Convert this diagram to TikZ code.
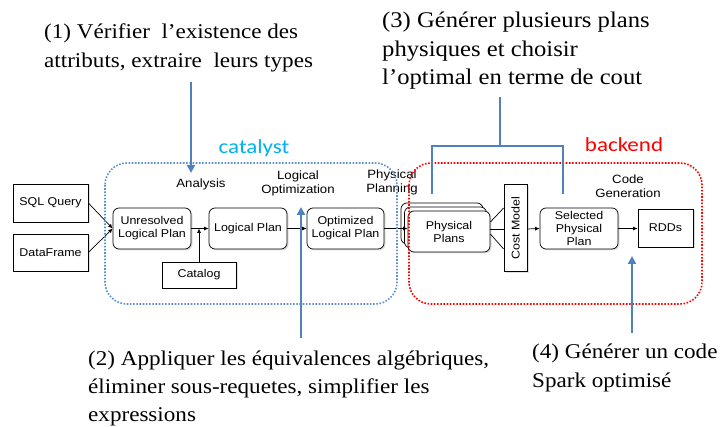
\documentclass[tikz,border=0pt]{standalone}
\usepackage{fontspec}
\setmainfont{Liberation Serif}[FakeStretch=1.1]
\setsansfont{Liberation Sans}[FakeStretch=1.1]
\newfontfamily\calib{Carlito}[FakeStretch=1.15]
\usetikzlibrary{arrows.meta,shadows,calc}
\definecolor{noteblue}{HTML}{4F81BD}
\definecolor{dotblue}{HTML}{5B8FD0}
\definecolor{catcyan}{HTML}{00B0F0}
\definecolor{backred}{HTML}{FF0000}
\tikzset{
  shadowed/.style={drop shadow={opacity=0.25,shadow xshift=1.5pt,shadow yshift=-1.5pt}},
  plainbox/.style={draw=black,line width=0.7pt,fill=white,shadowed,align=center,
    font=\sffamily\fontsize{11.3}{13}\selectfont,inner sep=1pt},
  roundbox/.style={plainbox,rounded corners=6pt},
  stagelabel/.style={font=\sffamily\fontsize{12}{14}\selectfont,align=center,inner sep=0pt},
  flow/.style={draw=black,line width=0.7pt,-{Latex[length=4.5pt,width=4pt]}},
  note/.style={font=\fontsize{21}{24}\selectfont,anchor=base west,inner sep=0pt},
  bignote/.style={note,font=\fontsize{22.4}{26}\selectfont},
  callout/.style={draw=noteblue,line width=2pt},
  calloutarrow/.style={callout,-{Triangle[length=8pt,width=8pt]}},
  zone/.style={line width=1.6pt,dash pattern=on 1.6pt off 1.6pt,rounded corners=22pt},
}
\begin{document}
\begin{tikzpicture}[x=1pt,y=-1pt]
\useasboundingbox (0,0) rectangle (725,427);

% input sources
\node[plainbox,minimum width=75pt,minimum height=38pt] (sql) at (50.5,203) {SQL Query};
\node[plainbox,minimum width=75pt,minimum height=37pt] (df) at (50.5,252.5) {DataFrame};

% logical plans
\node[roundbox,minimum width=78pt,minimum height=41pt] (unres) at (152,228.5) {Unresolved\\Logical Plan};
\node[roundbox,minimum width=78pt,minimum height=41pt] (lp) at (248,228.5) {Logical Plan};
\node[plainbox,minimum width=74pt,minimum height=26pt] (catalog) at (199,275) {Catalog};
\node[roundbox,minimum width=77pt,minimum height=41pt] (opt) at (345.5,228.5) {Optimized\\Logical Plan};

% stack of physical plans
\node[roundbox,minimum width=82pt,minimum height=41pt] (ppback) at (442,223.5) {};
\node[roundbox,minimum width=82pt,minimum height=41pt] (ppmid) at (445.5,227.5) {};
\node[roundbox,minimum width=82pt,minimum height=41pt] (ppf) at (449,231.5) {Physical\\Plans};

% cost model, selected plan, RDDs
\node[plainbox,minimum width=23pt,minimum height=87pt] (cost) at (515.5,228) {};
\node[font=\sffamily\fontsize{11.3}{13}\selectfont,rotate=90,inner sep=0pt] (costlbl) at (cost.center) {Cost Model};
\node[roundbox,minimum width=78pt,minimum height=41pt] (sel) at (579,228.5) {Selected\\Physical\\Plan};
\node[plainbox,minimum width=55pt,minimum height=38pt] (rdd) at (665.5,228) {RDDs};

% stage labels
\node[stagelabel] (lanalysis) at (201,184) {Analysis};
\node[stagelabel] (lopt) at (298,183) {Logical\\Optimization};
\node[stagelabel] (lphys) at (392,182) {Physical\\Planning};
\node[stagelabel] (lcode) at (628,186) {Code\\Generation};

% data flow
\draw[flow] (sql.east) -- (unres.west);
\draw[flow] (df.east) -- (unres.west);
\draw[flow] (unres.east) -- (lp.west);
\draw[flow] (catalog.north) -- (catalog.north |- unres.east);
\draw[flow] (lp.east) -- (opt.east -| opt.west);
\draw[flow] (opt.east) -- (opt.east -| ppf.west);
\draw[line width=0.7pt] ($(ppf.east)+(0,-9.5)$) -- ($(cost.west)+(0,-20)$);
\draw[line width=0.7pt] ($(ppf.east)+(0,-2.5)$) -- ($(cost.west)+(0,1)$);
\draw[line width=0.7pt] ($(ppf.east)+(0,2.5)$) -- ($(cost.west)+(0,21)$);
\draw[flow] ($(cost.east)+(0,1)$) -- (sel.west |- sel.east);
\draw[flow] (sel.east) -- (rdd.west |- sel.east);

% catalyst and backend zones
\draw[zone,draw=dotblue] (105,163) rectangle (397,304);
\draw[zone,draw=backred] (409,163) rectangle (702,304);
\node[font=\calib\fontsize{20}{22}\selectfont,text=catcyan,inner sep=0pt] (catalyst) at (254,148) {catalyst};
\node[font=\calib\fontsize{20}{22}\selectfont,text=backred,inner sep=0pt] (backend) at (624,145) {backend};

% annotations
\node[note] (n1a) at (44,39) {(1) Vérifier\ \ l’existence des};
\node[note] (n1b) at (44,68) {attributs, extraire\ \ leurs types};
\node[bignote] (n3a) at (382,28) {(3) Générer plusieurs plans};
\node[bignote] (n3b) at (382,56.5) {physiques et choisir};
\node[bignote] (n3c) at (382,85) {l’optimal en terme de cout};
\node[note] (n2a) at (88,365) {(2) Appliquer les équivalences algébriques,};
\node[note] (n2b) at (88,393) {éliminer sous-requetes, simplifier les};
\node[note] (n2c) at (88,421) {expressions};
\node[note] (n4a) at (532,358) {(4) Générer un code};
\node[note] (n4b) at (532,387) {Spark optimisé};

% callout connectors
\coordinate (c1s) at (191,82);
\coordinate (c1e) at (191,173);
\draw[calloutarrow] (c1s) -- (c1e);
\coordinate (c2s) at (301,338);
\coordinate (c2e) at (301,207);
\draw[calloutarrow] (c2s) -- (c2e);
\coordinate (c4s) at (632,333);
\coordinate (c4e) at (632,256);
\draw[calloutarrow] (c4s) -- (c4e);
\coordinate (c3s) at (500,97);
\coordinate (c3m) at (500,146);
\coordinate (c3l) at (432,194);
\coordinate (c3r) at (563,194);
\draw[callout] (c3s) -- (c3m);
\draw[callout] (c3l) -- (c3l |- c3m) -- (c3r |- c3m) -- (c3r);
\end{tikzpicture}
\end{document}
